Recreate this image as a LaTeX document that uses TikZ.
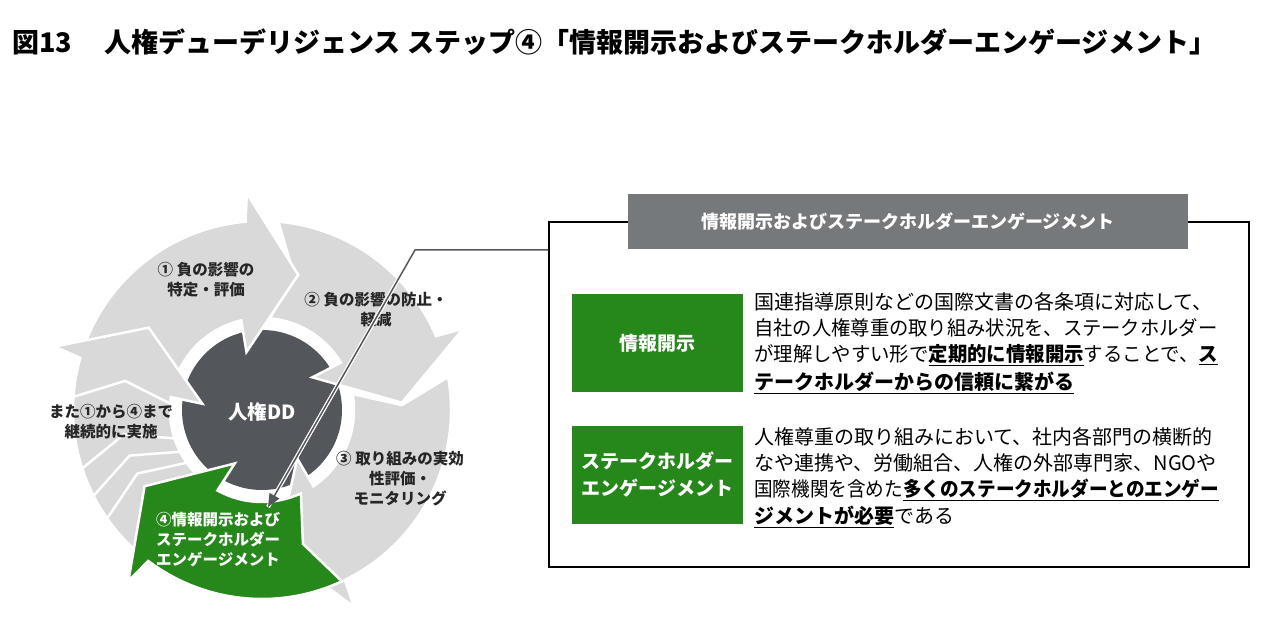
\documentclass[tikz,border=0pt]{standalone}
\usepackage{fontspec}
\setmainfont{Noto Sans CJK JP}
\usetikzlibrary{arrows.meta}

\definecolor{ringgray}{HTML}{D9D9D9}
\definecolor{ddgray}{HTML}{53565B}
\definecolor{hdrgray}{HTML}{76797C}
\definecolor{ddgreen}{HTML}{26871A}
\definecolor{txtgray}{HTML}{262626}

\newcommand{\ulb}[1]{\underline{\textbf{#1}}}
\newcommand{\squeeze}[2]{\scalebox{#1}[1]{#2}}

\tikzset{
  ringarrow/.style={fill=ringgray, draw=white, line width=2.5pt, line join=miter},
  steplabel/.style={align=center, text=txtgray, inner sep=0, font=\fontsize{15.5}{20}\selectfont\bfseries},
  greenbox/.style={fill=ddgreen, text=white, minimum width=171pt, minimum height=98pt, align=center, font=\fontsize{19}{27}\selectfont\bfseries},
  bodyline/.style={anchor=west, inner sep=0, text=black, font=\fontsize{20}{24}\selectfont},
}

\begin{document}
\begin{tikzpicture}[x=1pt, y=1pt]
  \useasboundingbox (0,0) rectangle (1269,622);

  \node [anchor=west, inner sep=0, font=\fontsize{27}{30}\selectfont\bfseries] (title) at (12,580)
    {図13\hspace{1.2em}人権デューデリジェンス ステップ④「情報開示およびステークホルダーエンゲージメント」};

  % cycle
  \begin{scope}[shift={(262,212)}]
    \fill [ddgray] (0,0) circle (80);
    \foreach \ta/\hb in {85/25, 180/97, 10/-62, 245/166}
      \filldraw [ringarrow] (\ta:189) arc [start angle=\ta, end angle=\hb-2, radius=189]
        -- ({\hb-3}:217) -- ({\hb-22}:140) -- ({\hb+8}:60) -- ({\hb+6}:92)
        arc [start angle=\hb+6, end angle=\ta, radius=92] -- ({\ta-8}:140) -- cycle;
    \foreach \sa in {176,198,207,215}
      \draw [white, line width=2.5pt, line join=miter] (\sa:92) -- ({\sa-8}:140) -- (\sa:189);
    \filldraw [ringarrow, fill=ddgreen] (-65:189) arc [start angle=-65, end angle=-127, radius=189]
      -- (-128:217) -- (-147:140) -- (-117:60) -- (-119:92)
      arc [start angle=-119, end angle=-65, radius=92] -- (-73:140) -- cycle;
  \end{scope}

  \node [steplabel] (s1) at (206,342) {① 負の影響の\\特定・評価};
  \node [steplabel] (s2) at (376,312) {② 負の影響の防止・\\軽減};
  \node [steplabel] (s3) at (400,143) {③ 取り組みの実効\\性評価・\\モニタリング};
  \node [steplabel] (s5) at (111,200) {また①から④まで\\継続的に実施};
  \node [steplabel, text=white] (s4) at (218,82) {④情報開示および\\ステークホルダー\\エンゲージメント};
  \node [text=white, font=\fontsize{19.5}{20}\selectfont\bfseries] (dd) at (262,210) {人権DD};

  % box
  \node [draw=black, line width=1.5pt, minimum width=700pt, minimum height=345pt, inner sep=0] (frame) at (899,227.5) {};
  \node [fill=hdrgray, minimum width=560pt, minimum height=55pt, text=white, font=\fontsize{18}{20}\selectfont\bfseries] (hdr) at (908,400.5)
    {情報開示およびステークホルダーエンゲージメント};

  \node [greenbox] (disc) at (657.5,279) {情報開示};
  \node [greenbox] (enga) at (657.5,147.5) {ステークホルダー\\エンゲージメント};

  \node [bodyline] (d1) at (754,320) {国連指導原則などの国際文書の各条項に対応して、};
  \node [bodyline] (d2) at (754,294) {\squeeze{0.965}{自社の人権尊重の取り組み状況を、ステークホルダー}};
  \node [bodyline] (d3) at (754,267) {\squeeze{0.97}{が理解しやすい形で\ulb{定期的に情報開示}することで、\ulb{ス}}};
  \node [bodyline] (d4) at (754,239) {\ulb{テークホルダーからの信頼に繋がる}};

  \node [bodyline] (e1) at (754,185) {人権尊重の取り組みにおいて、社内各部門の横断的};
  \node [bodyline] (e2) at (754,159) {なや連携や、労働組合、人権の外部専門家、NGOや};
  \node [bodyline] (e3) at (754,132) {\squeeze{0.93}{国際機関を含めた\ulb{多くのステークホルダーとのエンゲー}}};
  \node [bodyline] (e4) at (754,105) {\ulb{ジメントが必要}である};

  % connector
  \coordinate (bend) at (415,372);
  \coordinate (ddtip) at (268,115);
  \draw [white, line width=4pt] (bend) -- (ddtip);
  \draw [ddgray, line width=1.5pt, -{Triangle[length=13pt, width=11pt]}] (frame.west |- bend) -- (bend) -- (ddtip);
\end{tikzpicture}
\end{document}
